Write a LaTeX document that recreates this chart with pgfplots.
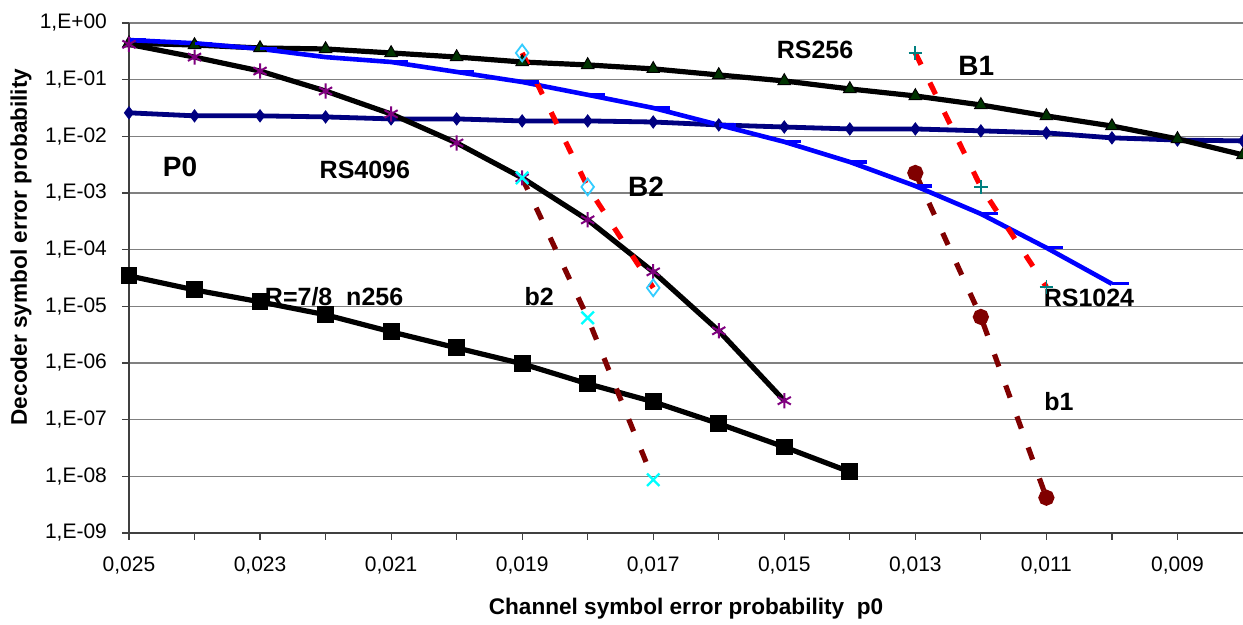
\documentclass[border=0pt]{standalone}
\usepackage{fontspec}
\setmainfont{Liberation Sans}
\usepackage{pgfplots}
\pgfplotsset{compat=1.18}
\definecolor{DkGreen}{HTML}{003300}
\definecolor{Navy}{HTML}{000080}
\definecolor{Purp}{HTML}{800080}
\definecolor{DkRed}{HTML}{800000}
\definecolor{SkyCyan}{HTML}{33CCFF}
\definecolor{Teal}{HTML}{008080}
\definecolor{BrCyan}{HTML}{00FFFF}
\definecolor{GridGray}{HTML}{808080}

% dash marker drawn to the right of the point (as in the source chart)
\pgfdeclareplotmark{rdash}{%
  \pgfpathmoveto{\pgfpoint{0pt}{0pt}}%
  \pgfpathlineto{\pgfpoint{2\pgfplotmarksize}{0pt}}%
  \pgfusepathqstroke}

\begin{document}
\begin{tikzpicture}
\useasboundingbox (-64.5pt,-46pt) rectangle (557pt,266.5pt);
\begin{axis}[
  scale only axis,
  width=557pt, height=255pt,
  at={(0,0)}, anchor=south west,
  clip=false,
  x dir=reverse,
  xmin=0.008, xmax=0.025,
  ymode=log, ymin=1e-9, ymax=1,
  axis x line*=bottom, axis y line*=left,
  axis line style={-, draw=black!75, line width=1.1pt},
  tick align=outside,
  major tick length=3.5pt, minor tick length=3.5pt,
  tick style={draw=black!75, line width=0.6pt},
  scaled x ticks=false,
  xtick={0.025,0.023,0.021,0.019,0.017,0.015,0.013,0.011,0.009},
  xticklabels={{0,025},{0,023},{0,021},{0,019},{0,017},{0,015},{0,013},{0,011},{0,009}},
  minor xtick={0.024,0.022,0.020,0.018,0.016,0.014,0.012,0.010},
  ytick={1e-9,1e-8,1e-7,1e-6,1e-5,1e-4,1e-3,1e-2,1e-1,1},
  yticklabels={{1,E-09},{1,E-08},{1,E-07},{1,E-06},{1,E-05},{1,E-04},{1,E-03},{1,E-02},{1,E-01},{1,E+00}},
  yminorticks=false,
  tick label style={font=\fontsize{10.5pt}{12pt}\selectfont},
  xticklabel style={yshift=-5pt},
  yticklabel style={xshift=-4pt},
  ymajorgrids=true,
  grid style={GridGray, line width=0.6pt},
  xlabel={Channel symbol error probability\ \ p0},
  ylabel={Decoder symbol error probability},
  label style={font=\bfseries\fontsize{11.3pt}{13pt}\selectfont},
  xlabel style={at={(axis description cs:0.5,0)}, anchor=center, yshift=-38pt},
  ylabel style={at={(axis description cs:0,0.5)}, anchor=center, yshift=54pt, xshift=15.5pt},
]
% P0
\addplot[Navy, line width=2.4pt, mark=diamond*, mark size=3pt, mark options={fill=Navy, line width=0.5pt}] coordinates {
  (0.025,0.026) (0.024,0.023) (0.023,0.023) (0.022,0.022) (0.021,0.0203)
  (0.020,0.0203) (0.019,0.0187) (0.018,0.0187) (0.017,0.0179) (0.016,0.0159)
  (0.015,0.0146) (0.014,0.0135) (0.013,0.0135) (0.012,0.0125) (0.011,0.0115)
  (0.010,0.0094) (0.009,0.0086) (0.008,0.0083)
};
% RS256
\addplot[black, line width=2.6pt, mark=triangle*, mark size=3.6pt, mark options={fill=DkGreen, draw=black, line width=0.5pt}] coordinates {
  (0.025,0.44) (0.024,0.409) (0.023,0.362) (0.022,0.348) (0.021,0.296)
  (0.020,0.251) (0.019,0.205) (0.018,0.182) (0.017,0.155) (0.016,0.121)
  (0.015,0.095) (0.014,0.0686) (0.013,0.0516) (0.012,0.0358) (0.011,0.0229)
  (0.010,0.0152) (0.009,0.0090) (0.008,0.0047)
};
% RS1024
\addplot[blue, line width=2.3pt, mark=rdash, mark size=4.25pt, mark options={line width=1.6pt}] coordinates {
  (0.025,0.50) (0.024,0.44) (0.023,0.35) (0.022,0.25) (0.021,0.205)
  (0.020,0.137) (0.019,0.091) (0.018,0.054) (0.017,0.0317) (0.016,0.0159)
  (0.015,0.0080) (0.014,0.00353) (0.013,0.00133) (0.012,0.000428)
  (0.011,0.000108) (0.010,2.49e-5)
};
% RS4096
\addplot[black, line width=2.6pt, mark=asterisk, mark size=3.8pt, mark options={Purp, line width=1pt}] coordinates {
  (0.025,0.42) (0.024,0.25) (0.023,0.142) (0.022,0.063) (0.021,0.0248)
  (0.020,0.00765) (0.019,0.00185) (0.018,0.000336) (0.017,4.06e-5)
  (0.016,3.70e-6) (0.015,2.16e-7)
};
% R=7/8 n256
\addplot[black, line width=2.6pt, mark=square*, mark size=2.9pt] coordinates {
  (0.025,3.45e-5) (0.024,1.95e-5) (0.023,1.20e-5) (0.022,7.1e-6) (0.021,3.55e-6)
  (0.020,1.85e-6) (0.019,9.7e-7) (0.018,4.3e-7) (0.017,2.07e-7) (0.016,8.5e-8)
  (0.015,3.3e-8) (0.014,1.2e-8)
};
% B2
\addplot[red, line width=2.6pt, dash pattern=on 6.5pt off 10pt, mark=diamond, mark size=4.2pt, mark options={solid, SkyCyan, line width=0.9pt}] coordinates {
  (0.019,0.296) (0.018,0.00128) (0.017,2.12e-5)
};
% b2
\addplot[DkRed, line width=2.6pt, dash pattern=on 6.5pt off 10pt, mark=x, mark size=4.4pt, mark options={solid, BrCyan, line width=1.2pt}] coordinates {
  (0.019,0.00185) (0.018,6.27e-6) (0.017,8.7e-9)
};
% B1
\addplot[red, line width=2.6pt, dash pattern=on 6.5pt off 10pt, mark=+, mark size=3.4pt, mark options={solid, Teal, line width=0.9pt}] coordinates {
  (0.013,0.296) (0.012,0.00128) (0.011,2.2e-5)
};
% b1
\addplot[DkRed, line width=2.6pt, dash pattern=on 6.5pt off 10pt, mark=*, mark size=2.7pt, mark options={solid, fill=DkRed}] coordinates {
  (0.013,0.00226) (0.012,6.5e-6) (0.011,4.2e-9)
};
\begin{scope}[font=\bfseries\fontsize{12.5pt}{14pt}\selectfont]
\node at (axis cs:0.01453,0.334) {RS256};
\node at (axis cs:0.02140,0.00255) {RS4096};
\node at (axis cs:0.02187,1.47e-5) {R=7/8\ \ n256};
\node at (axis cs:0.01874,1.47e-5) {b2};
\node at (axis cs:0.01035,1.41e-5) {RS1024};
\node at (axis cs:0.01081,2.07e-7) {b1};
\end{scope}
\begin{scope}[font=\bfseries\fontsize{14pt}{16pt}\selectfont]
\node at (axis cs:0.01207,0.1745) {B1};
\node at (axis cs:0.02422,0.00289) {P0};
\node at (axis cs:0.01711,0.00128) {B2};
\end{scope}
\end{axis}
\end{tikzpicture}
\end{document}
